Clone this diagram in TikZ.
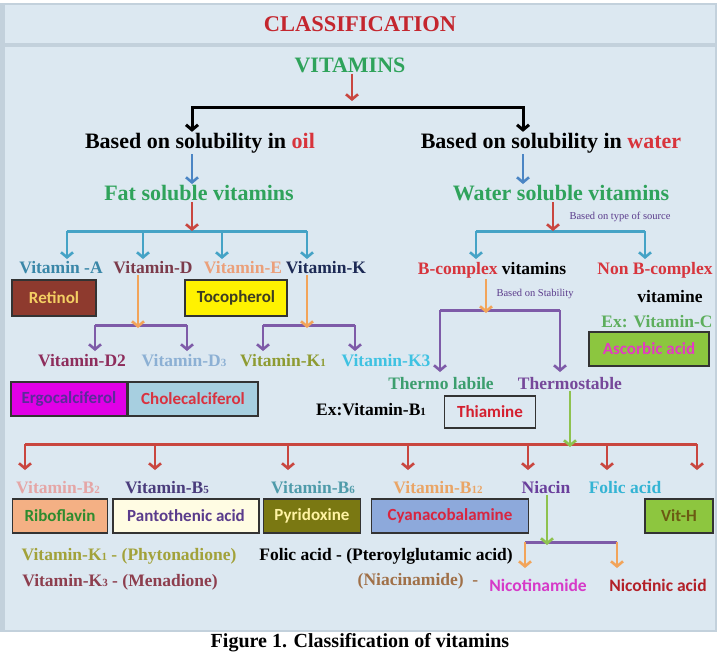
\documentclass[tikz,border=0pt]{standalone}
\usepackage{fontspec}
\setmainfont{Liberation Serif}[BoldFont={Liberation Serif Bold}]
\newfontfamily\boxfont{Carlito}[BoldFont={Carlito Bold}]
\usetikzlibrary{arrows.meta}
\definecolor{panel}{HTML}{DCE8F1}
\definecolor{rim}{HTML}{C3D1DC}
\definecolor{titler}{HTML}{C4262E}
\definecolor{oilred}{HTML}{D8343C}
\definecolor{vgreen}{HTML}{2FA35B}
\definecolor{ared}{HTML}{C9463F}
\definecolor{ablue}{HTML}{4B85C4}
\definecolor{tblue}{HTML}{45A3C6}
\definecolor{aorange}{HTML}{F2A45A}
\definecolor{apurple}{HTML}{7E5BA8}
\definecolor{agreen}{HTML}{8EC24F}
\definecolor{srcpurple}{HTML}{5B3C8C}
\definecolor{va}{HTML}{3A87A8}
\definecolor{vd}{HTML}{7C3B4B}
\definecolor{ve}{HTML}{EBA07A}
\definecolor{vk}{HTML}{1D2A55}
\definecolor{vdtwo}{HTML}{8E2D5C}
\definecolor{vdthree}{HTML}{8CB0D4}
\definecolor{vkone}{HTML}{8E9B32}
\definecolor{vkthree}{HTML}{3FC2E2}
\definecolor{retfill}{HTML}{8E3A2E}
\definecolor{rettxt}{HTML}{F4CF63}
\definecolor{toctxt}{HTML}{3D3D22}
\definecolor{ergfill}{HTML}{E100E6}
\definecolor{ergtxt}{HTML}{5B2B9B}
\definecolor{chofill}{HTML}{A7CFE0}
\definecolor{chotxt}{HTML}{D9323F}
\definecolor{bred}{HTML}{D7353D}
\definecolor{exgreen}{HTML}{5DAE5D}
\definecolor{ascfill}{HTML}{8CC63F}
\definecolor{asctxt}{HTML}{E43AC3}
\definecolor{labgreen}{HTML}{3C9E6E}
\definecolor{stpurple}{HTML}{76489A}
\definecolor{thred}{HTML}{D41F2F}
\definecolor{btwo}{HTML}{E5A6A6}
\definecolor{bfive}{HTML}{4A3C7C}
\definecolor{bsix}{HTML}{4F9BAA}
\definecolor{btwelve}{HTML}{EAA566}
\definecolor{niac}{HTML}{6A3F9C}
\definecolor{folc}{HTML}{34B4D4}
\definecolor{ribfill}{HTML}{F4B084}
\definecolor{ribtxt}{HTML}{2E8B2E}
\definecolor{panfill}{HTML}{FFFCE3}
\definecolor{pantxt}{HTML}{5A3C8C}
\definecolor{pyrfill}{HTML}{7A7812}
\definecolor{pyrtxt}{HTML}{FFF3A3}
\definecolor{cyafill}{HTML}{8DA9DB}
\definecolor{cyatxt}{HTML}{D8253F}
\definecolor{vhfill}{HTML}{8DC63F}
\definecolor{vhtxt}{HTML}{6B5A12}
\definecolor{konec}{HTML}{A2A23A}
\definecolor{kthreec}{HTML}{8D3E4E}
\definecolor{namc}{HTML}{A07048}
\definecolor{nmc}{HTML}{D63AC8}
\definecolor{nctc}{HTML}{B32028}
\newcommand{\dg}[1]{{\fontsize{11}{11}\selectfont #1}}

\begin{document}
\begin{tikzpicture}[x=1pt,y=-1pt,
  head/.style={font=\bfseries\fontsize{22}{24}\selectfont, inner sep=1pt},
  lbl/.style={font=\bfseries\fontsize{17.5}{20}\selectfont, inner sep=1pt},
  note/.style={font=\fontsize{10.5}{12}\selectfont, text=srcpurple, inner sep=1pt},
  box/.style={draw=black!80, line width=1.8pt, inner sep=0pt, minimum height=34pt,
    font=\boxfont\bfseries\fontsize{17}{20}\selectfont},
  sans/.style={font=\boxfont\bfseries\fontsize{17.5}{20}\selectfont, inner sep=1pt},
  arr/.style={line width=2.6pt, -{Straight Barb[length=5pt,width=12pt]}},
  brk/.style={line width=3pt}]
\useasboundingbox (0,0) rectangle (720,654);
\fill[white] (0,0) rectangle (720,654);
\fill[rim] (0,3) rectangle (717,632);
\fill[panel] (5,5) rectangle (715,43);
\fill[panel] (5,47) rectangle (715,630);

\node[head,titler,font=\bfseries\fontsize{22.5}{24}\selectfont] (title) at (360,24) {CLASSIFICATION};
\node[head,vgreen] (vit) at (350,65) {VITAMINS};
\node[head] (oil) at (200,143) {Based on solubility in \textcolor{oilred}{oil}};
\node[head] (water) at (551,143) {Based on solubility in \textcolor{oilred}{water}};
\node[head,vgreen] (fat) at (199,193) {Fat soluble vitamins};
\node[head,vgreen] (wsv) at (561,193) {Water soluble vitamins};
\node[note] (src) at (620,217) {Based on type of source};

\coordinate (v1) at (352,101);
\coordinate (bl) at (192,107);
\coordinate (br) at (523,107);
\draw[arr,ared] (vit.south -| v1) -- (v1);
\draw[arr,line width=3pt] (bl -| v1) -- (bl) -- (bl |- oil.north);
\draw[arr,line width=3pt] (br -| v1) -- (br) -- (br |- water.north);
\draw[arr,ablue] (bl |- oil.south) -- (bl |- fat.north);
\draw[arr,ablue] (br |- water.south) -- (br |- wsv.north);

% fat soluble
\coordinate (fb) at (192,231);
\coordinate (ta) at (67,259);
\coordinate (td) at (143,259);
\coordinate (te) at (222,259);
\coordinate (tk) at (307,259);
\draw[brk,tblue] (ta |- fb) -- (tk |- fb);
\foreach \t in {ta,td,te,tk} \draw[arr,tblue] (\t |- fb) -- (\t);
\draw[arr,ared] (fat.south -| fb) -- (fb);

\node[lbl,text=va] (vA) at (61,268) {Vitamin -A};
\node[lbl,text=vd] (vD) at (153,268) {Vitamin-D};
\node[lbl,text=ve] (vE) at (243,268) {Vitamin-E};
\node[lbl,text=vk] (vK) at (326,268) {Vitamin-K};
\node[box,fill=retfill,text=rettxt,minimum width=84pt,minimum height=36pt] (ret) at (54,298) {Retinol};
\node[box,fill=yellow,text=toctxt,minimum width=102pt,minimum height=36pt] (toc) at (236,298) {Tocopherol};

\coordinate (dj) at (138,325);
\coordinate (kj) at (307,325);
\coordinate (td2) at (95,351);
\coordinate (td3) at (187,351);
\coordinate (tk1) at (263,351);
\coordinate (tk3) at (355,351);
\draw[brk,apurple] (td2 |- dj) -- (td3 |- dj);
\draw[brk,apurple] (tk1 |- kj) -- (tk3 |- kj);
\foreach \t in {td2,td3,tk1,tk3} \draw[arr,apurple] (\t |- dj) -- (\t);
\draw[arr,aorange] (vD.south -| dj) -- ([yshift=-3pt]dj);
\draw[arr,aorange] (vK.south -| kj) -- ([yshift=-3pt]kj);

\node[lbl,text=vdtwo] (vD2) at (82,361) {Vitamin-D2};
\node[lbl,text=vdthree] (vD3) at (184,361) {Vitamin-D\dg{3}};
\node[lbl,text=vkone] (vK1) at (283,361) {Vitamin-K\dg{1}};
\node[lbl,text=vkthree] (vK3) at (386,361) {Vitamin-K3};
\node[box,fill=ergfill,text=ergtxt,minimum width=116pt] (erg) at (69,399) {Ergocalciferol};
\node[box,fill=chofill,text=chotxt,minimum width=130pt] (cho) at (193,399) {Cholecalciferol};

% water soluble
\coordinate (wj) at (553,231);
\coordinate (tb) at (476,259);
\coordinate (tn) at (645,259);
\draw[brk,tblue] (tb |- wj) -- (tn |- wj);
\foreach \t in {tb,tn} \draw[arr,tblue] (\t |- wj) -- (\t);
\draw[arr,ared] (wsv.south -| wj) -- (wj);

\node[lbl] (bcx) at (492,270) {\textcolor{bred}{B-complex} vitamins};
\node[lbl,text=bred] (nbc) at (655,270) {Non B-complex};
\node[lbl] (vmn) at (670,297) {vitamine};
\node[lbl,text=exgreen] (exc) at (657,322) {Ex: Vitamin-C};
\node[box,fill=ascfill,text=asctxt,minimum width=120pt] (asc) at (649,349) {Ascorbic acid};

\coordinate (sj) at (486,310);
\coordinate (tl) at (440,372);
\coordinate (ts) at (560,372);
\draw[brk,apurple] (tl |- sj) -- (ts |- sj);
\foreach \t in {tl,ts} \draw[arr,apurple] (\t |- sj) -- (\t);
\draw[arr,aorange] (bcx.south -| sj) -- ([yshift=-3pt]sj);
\node[note] (stab) at (535,294) {Based on Stability};

\node[lbl,text=labgreen] (lab) at (441,384) {Thermo labile};
\node[lbl,text=stpurple] (stb) at (570,384) {Thermostable};
\node[lbl] (exb) at (371,410) {Ex:Vitamin-B\dg{1}};
\node[box,text=thred,minimum width=91pt,minimum height=32pt] (thi) at (490,412) {Thiamine};

% thermostable group
\coordinate (bb) at (570,444);
\foreach \x [count=\i] in {25,155,288,408,528,607,697} \coordinate (b\i) at (\x,470);
\draw[brk,ared] (b1 |- bb) -- (b7 |- bb);
\foreach \i in {1,...,7} \draw[arr,ared] (b\i |- bb) -- (b\i);
\draw[arr,agreen] (stb.south -| bb) -- ([yshift=-3pt]bb);

\node[lbl,text=btwo] (vB2) at (58,488) {Vitamin-B\dg{2}};
\node[lbl,text=bfive] (vB5) at (167,488) {Vitamin-B\dg{5}};
\node[lbl,text=bsix] (vB6) at (313,488) {Vitamin-B\dg{6}};
\node[lbl,text=btwelve] (vB12) at (438,488) {Vitamin-B\dg{12}};
\node[lbl,text=niac] (nia) at (546,488) {Niacin};
\node[lbl,text=folc] (fol) at (625,488) {Folic acid};

\node[box,fill=ribfill,text=ribtxt,minimum width=95pt] (rib) at (60,516) {Riboflavin};
\node[box,fill=panfill,text=pantxt,minimum width=146pt] (pan) at (186,516) {Pantothenic acid};
\node[box,fill=pyrfill,text=pyrtxt,minimum width=97pt] (pyr) at (312,516) {Pyridoxine};
\node[box,fill=cyafill,text=cyatxt,minimum width=157pt] (cya) at (450,516) {Cyanacobalamine};
\node[box,fill=vhfill,text=vhtxt,minimum width=68pt] (vith) at (679,516) {Vit-H};

\coordinate (nj) at (547,542);
\coordinate (tm) at (525,568);
\coordinate (tc) at (617,568);
\draw[brk,apurple] (tm |- nj) -- (tc |- nj);
\foreach \t in {tm,tc} \draw[arr,aorange] (\t |- nj) -- (\t);
\draw[arr,agreen] (nia.south -| nj) -- ([yshift=-3pt]nj);

\node[lbl,text=konec] (k1p) at (129,556) {Vitamin-K\dg{1} - (Phytonadione)};
\node[lbl,text=kthreec] (k3m) at (120,582) {Vitamin-K\dg{3} - (Menadione)};
\node[lbl] (fpa) at (386,556) {Folic acid - (Pteroylglutamic acid)};
\node[lbl,text=namc] (nmd) at (418,581) {(Niacinamide) \ -};
\node[sans,text=nmc] (nam) at (538,585) {Nicotinamide};
\node[sans,text=nctc] (nct) at (658,585) {Nicotinic acid};

\node[head,font=\bfseries\fontsize{20}{22}\selectfont] (cap) at (360,643) {Figure 1. Classification of vitamins};
\end{tikzpicture}
\end{document}
